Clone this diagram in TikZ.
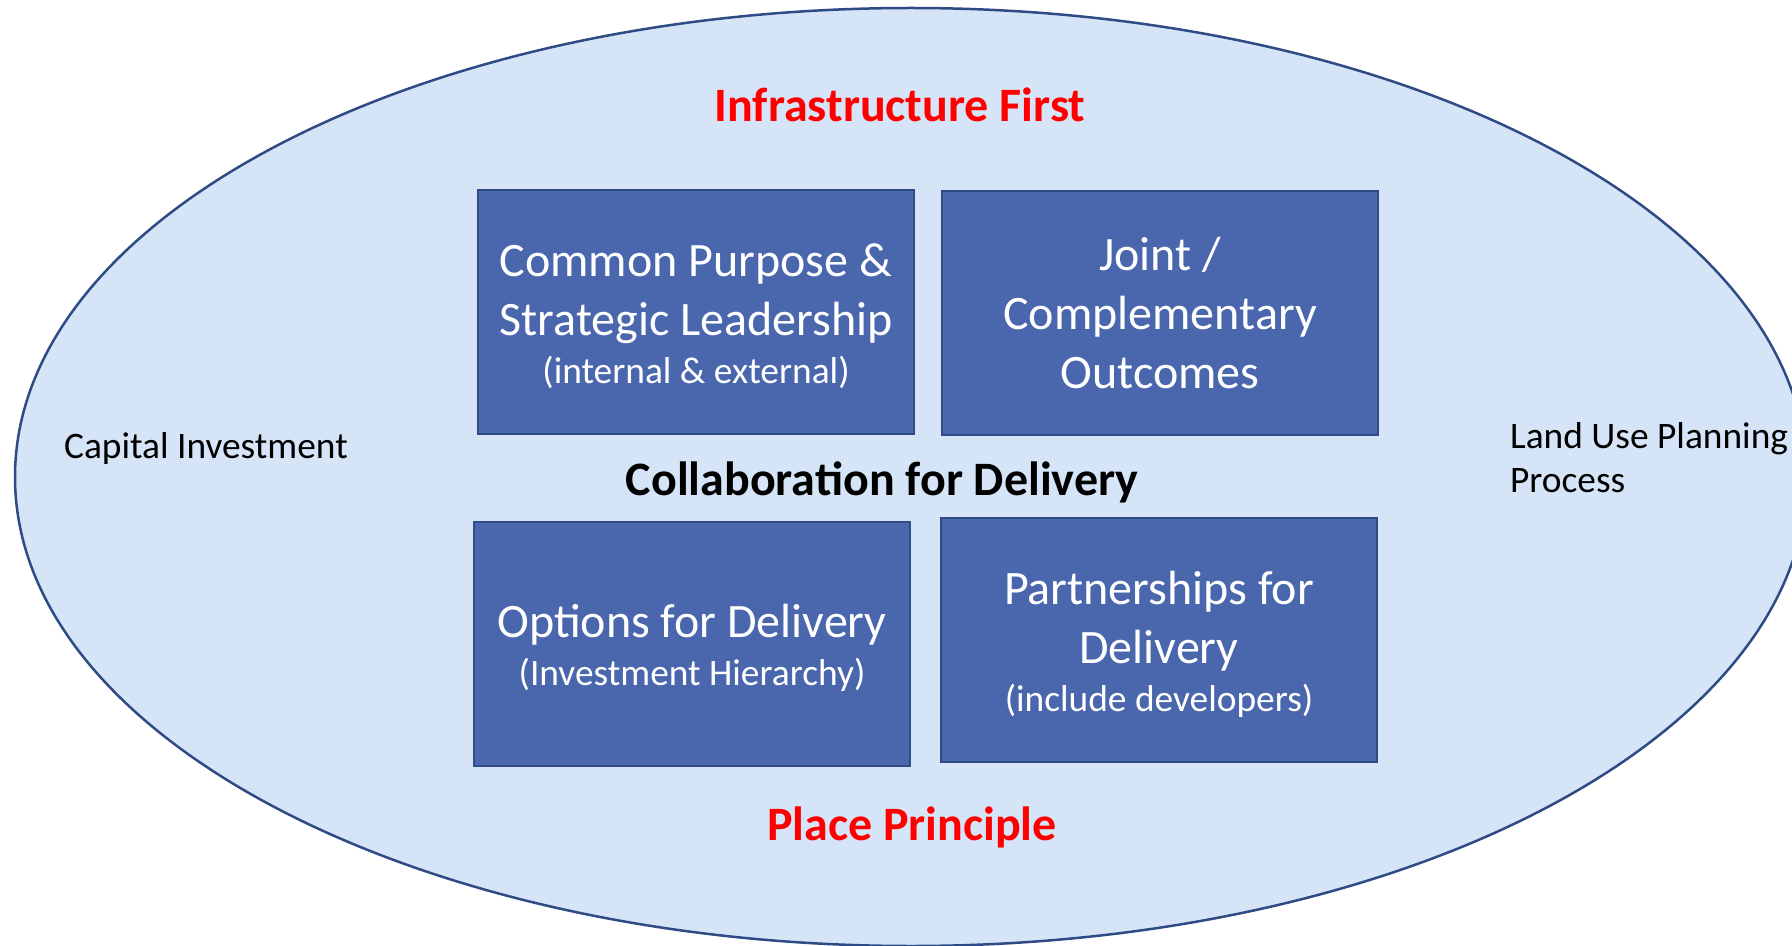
\documentclass[tikz,border=0pt]{standalone}
\usepackage{fontspec}
\setmainfont{Carlito}
\usetikzlibrary{positioning}

\definecolor{ovalfill}{HTML}{D5E4F6}
\definecolor{ovalline}{HTML}{2F4B85}
\definecolor{boxfill}{HTML}{4A66AD}
\definecolor{boxline}{HTML}{2F4B85}
\newcommand{\smallnote}{\fontsize{18.7}{22}\selectfont}
\newcommand{\topgap}{\rule{0pt}{21pt}}

\begin{document}
\begin{tikzpicture}[x=0.5pt, y=-0.5pt,
    block/.style = {rectangle, draw=boxline, fill=boxfill, line width=1.2pt,
        minimum width=218pt, minimum height=122pt, inner sep=0pt,
        text=white, align=center, font=\fontsize{24}{29.5}\selectfont},
    heading/.style = {anchor=base, font=\fontsize{24}{28}\selectfont\bfseries},
    side/.style = {anchor=base west, align=left, font=\fontsize{18.7}{22}\selectfont}]
    \useasboundingbox (0,0) rectangle (1792,946);
    \clip (0,0) rectangle (1792,946);
    \draw[draw=ovalline, fill=ovalfill, line width=1.25pt]
        (911,477) ellipse [x radius=896, y radius=469];
    \node[heading, text=red] (infra) at (900,122) {Infrastructure First};
    \node[heading] (collab) at (882,495) {Collaboration for Delivery};
    \node[heading, text=red] (place) at (912,840) {Place Principle};
    \node[side] (capital) at (57,458) {Capital Investment};
    \node[side] (landuse) at (1503,492) {Land Use Planning\\Process};
    \node[block] (purpose) at (696,312)
        {\topgap Common Purpose \&\\Strategic Leadership\\[-5.5pt]{\smallnote (internal \& external)}};
    \node[block] (joint) at (1160,313) {Joint /\\Complementary\\Outcomes};
    \node[block] (options) at (692,644)
        {\topgap Options for Delivery\\[-5.5pt]{\smallnote (Investment Hierarchy)}};
    \node[block] (partners) at (1159,640)
        {\topgap Partnerships for\\Delivery\\[-5.5pt]{\smallnote (include developers)}};
\end{tikzpicture}
\end{document}
